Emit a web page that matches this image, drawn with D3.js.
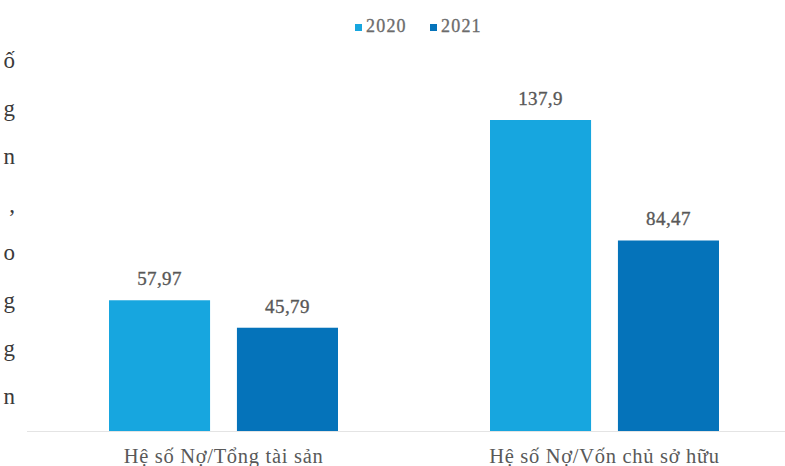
<!DOCTYPE html>
<html>
<head>
<meta charset="utf-8">
<script src="https://cdn.jsdelivr.net/npm/d3@7"></script>
<style>
  html, body { margin: 0; padding: 0; background: #fff; }
  svg { display: block; }
</style>
</head>
<body>
<svg id="chart" width="785" height="466"></svg>
<script>
// Debt ratios, 2020 vs 2021
const categories = ["Hệ số Nợ/Tổng tài sản", "Hệ số Nợ/Vốn chủ sở hữu"];
const series = ["2020", "2021"];
const values2020 = [57.97, 137.9];
const values2021 = [45.79, 84.47];
const valueLabels2020 = ["57,97", "137,9"];
const valueLabels2021 = ["45,79", "84,47"];
const seriesColors = ["#17a6df", "#0573ba"];
// line endings of the neighbouring paragraph at the left edge
const marginText = ["ố", "g", "n", ",", "o", "g", "g", "n"];

const svg = d3.select("#chart");
const W = 785, H = 466;
const serif = "'Liberation Serif', 'DejaVu Serif', serif";

const rows = categories.map((c, i) => ({
  category: c,
  values: [
    { key: series[0], value: values2020[i], label: valueLabels2020[i] },
    { key: series[1], value: values2021[i], label: valueLabels2021[i] }
  ]
}));

const x0 = d3.scaleBand().domain(categories).range([33, 795]);
const x1 = d3.scaleBand().domain(series).range([76, 305]).paddingInner(0.21);
const y = d3.scaleLinear().domain([0, 137.9]).range([431, 120]);
const color = d3.scaleOrdinal().domain(series).range(seriesColors);

// baseline
svg.append("line")
  .attr("x1", 27).attr("x2", W)
  .attr("y1", y(0) + 0.5).attr("y2", y(0) + 0.5)
  .attr("stroke", "#e4e4e4").attr("stroke-width", 1.2);

// bars
const groups = svg.selectAll("g.cat").data(rows).join("g")
  .attr("class", "cat")
  .attr("transform", d => `translate(${x0(d.category)},0)`);

groups.selectAll("rect").data(d => d.values).join("rect")
  .attr("x", d => x1(d.key))
  .attr("y", d => y(d.value))
  .attr("width", x1.bandwidth())
  .attr("height", d => y(0) - y(d.value))
  .attr("fill", d => color(d.key));

// value labels
groups.selectAll("text.val").data(d => d.values).join("text")
  .attr("class", "val")
  .attr("x", d => x1(d.key) + x1.bandwidth() / 2)
  .attr("y", d => y(d.value) - 15)
  .attr("text-anchor", "middle")
  .attr("font-family", serif)
  .attr("font-size", 19)
  .attr("letter-spacing", 0.4)
  .attr("fill", "#585858")
  .attr("stroke", "#585858").attr("stroke-width", 0.35)
  .text(d => d.label);

// category axis labels
const xAxis = d3.axisBottom(x0).tickSize(0).tickPadding(0);
const axisG = svg.append("g").attr("transform", `translate(0,${y(0)})`).call(xAxis);
axisG.select(".domain").remove();
axisG.selectAll("text")
  .attr("dy", 0)
  .attr("y", 32)
  .attr("font-family", serif)
  .attr("font-size", 20.5)
  .attr("letter-spacing", 0.7)
  .attr("fill", "#595959");

// legend
const legendX = [355, 430];
const legend = svg.selectAll("g.leg").data(series).join("g")
  .attr("class", "leg")
  .attr("transform", (d, i) => `translate(${legendX[i]},0)`);
legend.append("rect")
  .attr("x", 0).attr("y", 24).attr("width", 7).attr("height", 7)
  .attr("fill", d => color(d));
legend.append("text")
  .attr("x", 11).attr("y", 32)
  .attr("font-family", serif)
  .attr("font-size", 18)
  .attr("fill", "#6b6b6b")
  .attr("stroke", "#6b6b6b").attr("stroke-width", 0.3)
  .attr("letter-spacing", 1.2)
  .text(d => d);

// paragraph fragments on the left edge
svg.selectAll("text.margin").data(marginText).join("text")
  .attr("class", "margin")
  .attr("x", 15)
  .attr("y", (d, i) => 68 + i * 48)
  .attr("text-anchor", "end")
  .attr("font-family", serif)
  .attr("font-size", 23)
  .attr("fill", "#3a3a3a")
  .text(d => d);
</script>
</body>
</html>
